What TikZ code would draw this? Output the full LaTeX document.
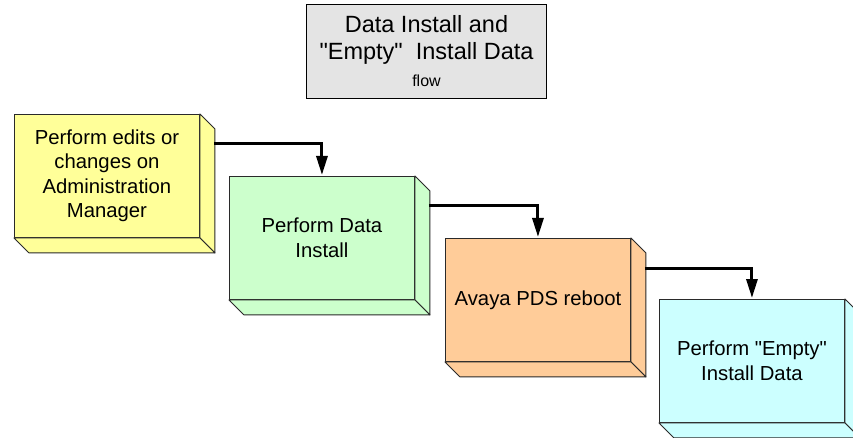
\documentclass[tikz,border=0pt]{standalone}
\usepackage{fontspec}
\setmainfont{Liberation Sans}[Ligatures=TeXOff]
\usetikzlibrary{calc,arrows.meta}

\definecolor{boxyellow}{HTML}{FFFF99}
\definecolor{boxgreen}{HTML}{CCFFCC}
\definecolor{boxorange}{HTML}{FFCC99}
\definecolor{boxcyan}{HTML}{CCFFFF}
\definecolor{titlegray}{HTML}{E4E4E4}
\definecolor{edge}{HTML}{2A2A2A}

\newcommand\titlefont{\fontsize{23.5}{27}\selectfont}
\newcommand\subfont{\fontsize{16}{21}\selectfont}

\tikzset{
  x=1pt, y=1pt,
  front/.style={draw=edge, line width=0.9pt, anchor=north west,
    minimum width=185pt, minimum height=123pt, inner sep=4pt,
    align=center, font=\fontsize{20.3}{24.5}\selectfont},
  depthface/.style={draw=edge, line width=0.9pt, line join=round},
  flow/.style={line width=3pt, line join=miter,
    -{Triangle[length=19pt,width=11pt]}, shorten >=1pt},
  titlebox/.style={draw=black, line width=1pt, fill=titlegray,
    anchor=north west, minimum width=240pt, minimum height=94pt,
    align=center, inner sep=2pt, font=\titlefont}
}

% depth faces (right side and bottom) of a block, offset by 15pt
\newcommand\blockdepth[2]{%
  \filldraw[depthface, fill=#2]
    (#1.north east) -- ++(15,-15) -- ($(#1.south east)+(15,-15)$)
    -- (#1.south east) -- cycle;
  \filldraw[depthface, fill=#2]
    (#1.south west) -- ++(15,-15) -- ($(#1.south east)+(15,-15)$)
    -- (#1.south east) -- cycle;
}

\begin{document}
\begin{tikzpicture}
\useasboundingbox (0,0) rectangle (853,-438);
\clip (0,0) rectangle (853,-438);
\fill[white] (0,0) rectangle (853,-438);

% title
\node[titlebox] (title) at (306,-4)
  {Data Install and\\ \char34 Empty\char34 \ \ Install Data\\ \subfont flow};

% process blocks
\node[front, fill=boxyellow] (b1) at (14,-114)
  {Perform edits or\\changes on\\Administration\\Manager};
\node[front, fill=boxgreen] (b2) at (229,-176)
  {Perform Data\\Install};
\node[front, fill=boxorange] (b3) at (445,-238)
  {Avaya PDS reboot};
\node[front, fill=boxcyan] (b4) at (659,-299)
  {Perform \char34 Empty\char34\\Install Data};

\blockdepth{b1}{boxyellow}
\blockdepth{b2}{boxgreen}
\blockdepth{b3}{boxorange}
\blockdepth{b4}{boxcyan}

% connectors
\draw[flow] ($(b1.north east)+(14,-30)$) -| (b2.north);
\draw[flow] ($(b2.north east)+(14,-30)$) -| (b3.north);
\draw[flow] ($(b3.north east)+(14,-30)$) -| (b4.north);
\end{tikzpicture}
\end{document}
